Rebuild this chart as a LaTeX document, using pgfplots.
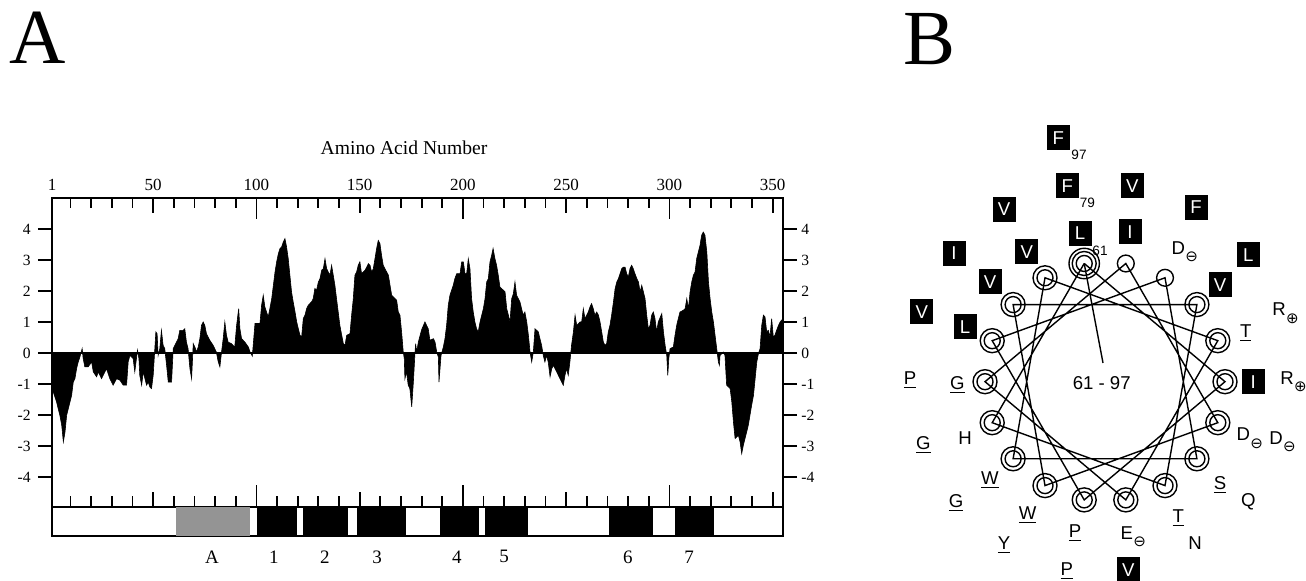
\documentclass[border=0pt]{standalone}
\usepackage{pgfplots}
\pgfplotsset{compat=1.18}
\usepackage{fontspec}
\setmainfont{Liberation Serif}
\newfontfamily\hv{Liberation Sans}
\newfontfamily\djsans{DejaVu Sans}
\newcommand{\ms}{\rlap{\kern0.2pt\raisebox{-3.8pt}{\djsans\fontsize{7.5}{8}\selectfont ⊖}}}
\newcommand{\ps}{\rlap{\kern0.2pt\raisebox{-3.8pt}{\djsans\fontsize{7.5}{8}\selectfont ⊕}}}
\begin{document}
\begin{tikzpicture}
\path[use as bounding box] (0,0) rectangle (653pt,290.5pt);

% ---------- Panel A: hydropathy profile ----------
\begin{axis}[
  at={(26pt,37pt)}, anchor=south west, scale only axis,
  width=365.5pt, height=154.5pt,
  xmin=1, xmax=355, ymin=-4.97, ymax=5.0,
  axis line style={line width=0.9pt},
  tick style={line width=0.9pt, black},
  tick align=inside,
  xtick pos=both, xticklabel pos=top,
  xtick={50,150,250,350}, xticklabels={50,150,250,350},
  extra x ticks={1,100,200,300}, extra x tick labels={1,100,200,300},
  extra x tick style={major tick length=10.75pt},
  minor xtick={10,20,...,350},
  major tick length=7.5pt, minor tick length=5.25pt,
  ytick=\empty,
  xticklabel style={font=\fontsize{8.5}{10}\selectfont, inner sep=1pt, yshift=2.5pt},
  clip=false
]
\addplot[fill=black, draw=black, line width=0.3pt] coordinates {
(1,0) (1,-1.15) (1.6,-1.26) (3.2,-1.58) (4.8,-2.01) (5.7,-2.33) (6.5,-2.87) (7.3,-2.55) (8.1,-2.01) (8.9,-1.80) (9.7,-1.58) (10.5,-1.37) (11.3,-0.94) (12.1,-0.83) (12.9,-0.51) (13.7,-0.29) (14.5,-0.13) (15.6,0.14) (16.1,-0.18) (16.9,-0.45) (18.5,-0.45) (20.2,-0.29) (21.0,-0.61) (22.6,-0.77) (23.4,-0.61) (25.0,-0.83) (25.8,-0.72) (27.4,-0.51) (29.0,-0.83) (30.6,-1.04) (32.3,-0.83) (33.9,-0.88) (35.5,-1.04) (37.1,-1.04) (37.9,-0.29) (38.7,-0.08) (40.3,-0.18) (41.1,-0.61) (42.4,0.09) (43.1,-0.18) (43.5,-0.72) (44.4,-1.04) (45.2,-0.61) (46.0,-0.83) (46.8,-1.04) (47.6,-0.94) (48.4,-1.10) (49.2,-1.15) (50.0,-0.72) (50.8,0.14) (51.3,0.68) (51.9,0.62) (52.4,-0.08) (53.2,0.14) (54.0,0.73) (54.8,0.25) (55.6,0.14) (56.5,-0.40) (57.3,-0.94) (58.9,-0.94) (59.7,0.14) (60.5,0.25) (62.1,0.46) (62.9,0.73) (64.5,0.73) (65.3,0.78) (66.1,0.35) (66.9,0.14) (67.8,-0.51) (68.6,-0.83) (69.4,0.30) (70.2,0.19) (71.0,0.03) (71.8,0.19) (72.6,0.46) (73.4,0.89) (74.2,1.00) (75.0,0.89) (75.8,0.62) (77.4,0.41) (79.0,0.25) (80.6,0.03) (81.5,-0.29) (82.3,-0.45) (83.1,0.03) (83.9,0.46) (84.7,1.00) (85.5,0.57) (86.3,0.35) (87.9,0.30) (89.5,0.19) (90.4,0.89) (91.4,1.43) (92.0,0.78) (92.8,0.46) (94.4,0.35) (96.1,0.19) (96.9,0.03) (98.0,-0.10) (98.5,0.30) (99.3,0.95) (101.7,0.95) (102.5,1.54) (103.3,1.86) (104.1,1.48) (104.9,1.32) (105.7,1.16) (106.5,1.43) (107.4,1.75) (108.2,2.18) (109.0,2.61) (109.8,2.94) (110.6,3.20) (111.4,3.37) (112.2,3.42) (113.0,3.58) (113.8,3.69) (114.6,3.42) (115.4,3.04) (116.2,2.51) (117.0,1.97) (117.8,1.65) (118.7,1.32) (119.5,1.00) (120.3,0.78) (121.1,0.57) (121.9,0.52) (122.7,1.11) (123.5,1.22) (124.3,1.43) (125.1,1.54) (126.7,1.65) (127.5,1.75) (128.3,2.08) (129.1,2.02) (130.0,2.29) (130.8,2.40) (131.6,2.67) (132.4,2.72) (133.2,3.04) (134.0,2.72) (134.8,2.61) (135.6,2.51) (136.4,2.83) (137.2,2.51) (138.0,2.18) (138.8,1.75) (139.6,1.32) (140.4,0.89) (141.3,0.57) (142.1,0.30) (142.9,0.25) (143.7,0.57) (145.3,0.62) (146.1,1.22) (146.9,1.75) (147.7,2.51) (148.5,2.61) (149.3,2.83) (150.1,2.94) (150.9,2.56) (152.6,2.67) (153.4,2.77) (154.2,2.88) (155.0,2.83) (155.8,2.61) (156.6,2.72) (157.4,3.04) (158.2,3.37) (159.0,3.63) (159.8,3.53) (160.6,3.15) (161.4,2.83) (162.2,2.72) (163.9,2.51) (164.7,2.18) (165.5,1.86) (167.9,1.70) (168.7,1.32) (169.5,1.22) (170.3,0.68) (171.1,0.03) (171.6,-0.18) (171.9,-0.83) (172.7,-0.61) (173.5,-1.04) (174.3,-1.15) (175.2,-1.74) (176.0,-0.94) (176.8,0.03) (177.1,0.30) (177.6,0.03) (178.4,0.35) (180.0,0.75) (181.6,1.00) (183.2,0.78) (184.0,0.41) (185.7,0.46) (186.5,0.35) (187.3,0.03) (188.1,-0.13) (188.4,-0.94) (188.9,-0.51) (189.4,-0.08) (190.5,0.19) (191.3,0.46) (192.1,0.89) (192.9,1.54) (193.7,1.86) (195.3,2.18) (196.1,2.40) (197.0,2.56) (198.6,2.56) (199.4,2.94) (200.2,2.94) (201.0,2.56) (201.8,2.56) (202.6,3.04) (203.4,2.72) (204.2,1.75) (205.0,1.32) (205.8,1.00) (206.6,0.78) (207.4,0.68) (208.3,1.00) (209.1,1.22) (209.9,1.43) (210.7,1.75) (211.5,2.29) (212.3,2.40) (213.1,2.94) (213.9,3.15) (214.6,3.37) (215.5,3.04) (216.3,2.83) (217.1,2.51) (217.9,2.13) (220.4,1.97) (221.2,1.43) (222.0,1.22) (222.8,1.00) (223.6,1.75) (224.4,1.91) (225.2,2.29) (226.0,1.86) (227.6,1.65) (228.4,1.43) (229.2,1.22) (230.0,1.32) (230.9,1.00) (231.7,0.57) (232.5,0.03) (233.3,-0.29) (234.1,0.03) (234.9,0.78) (236.5,0.68) (237.3,0.46) (238.1,0.25) (238.9,-0.08) (239.7,-0.29) (240.5,-0.08) (241.3,-0.29) (242.2,-0.77) (243.0,-0.51) (243.8,-0.40) (245.4,-0.61) (247.0,-0.83) (248.6,-1.04) (249.4,-0.72) (250.2,-0.51) (251.0,-0.72) (251.8,-0.29) (252.6,0.25) (253.5,0.68) (254.3,1.22) (255.1,0.89) (256.7,1.00) (257.5,1.00) (258.3,1.43) (259.1,1.11) (260.7,1.32) (261.5,1.48) (262.3,1.59) (263.1,1.43) (263.9,1.22) (264.8,1.32) (265.6,1.22) (266.4,1.00) (267.2,0.68) (268.0,0.35) (268.8,0.25) (269.6,0.30) (270.4,0.68) (271.2,0.89) (272.0,1.22) (272.9,1.65) (273.7,2.08) (274.5,2.29) (275.3,2.40) (276.1,2.56) (276.9,2.72) (277.7,2.77) (278.5,2.77) (279.3,2.56) (280.1,2.45) (280.9,2.72) (281.7,2.83) (282.5,2.72) (283.3,2.56) (284.2,2.40) (285.0,2.29) (285.8,1.97) (286.6,2.18) (287.4,1.97) (288.2,1.75) (289.0,1.22) (289.8,0.78) (290.6,0.89) (291.4,1.22) (292.2,1.32) (293.0,1.11) (293.8,0.68) (294.6,1.00) (296.3,1.27) (297.1,0.68) (297.9,0.25) (298.7,-0.08) (299.2,-0.72) (299.7,-0.18) (300.3,0.14) (301.9,0.19) (302.7,0.57) (303.5,0.89) (304.3,1.11) (305.1,1.32) (306.8,1.38) (307.6,1.43) (308.4,1.75) (309.2,1.43) (310.0,1.97) (310.8,2.29) (311.6,2.51) (312.4,2.61) (313.2,3.04) (314.0,3.26) (314.8,3.47) (315.6,3.80) (316.4,3.90) (317.2,3.80) (318.1,3.26) (318.9,2.29) (319.7,1.75) (320.5,1.32) (321.3,1.00) (322.1,0.57) (322.9,0.14) (323.7,-0.29) (324.2,-0.40) (324.5,-0.08) (326.1,0.03) (326.9,-0.08) (327.7,-1.04) (329.4,-1.15) (330.2,-1.58) (331.0,-2.23) (331.8,-2.76) (333.4,-2.66) (334.2,-2.87) (335.0,-3.25) (335.8,-2.98) (336.6,-2.76) (337.4,-2.55) (338.2,-2.33) (339.0,-2.01) (339.8,-1.69) (340.7,-1.37) (341.5,-0.83) (342.3,-0.29) (343.1,-0.02) (343.9,0.14) (344.7,0.89) (345.5,1.22) (346.3,1.16) (347.1,0.68) (347.9,0.73) (348.7,0.52) (349.5,1.11) (350.3,0.52) (351.1,0.57) (351.9,0.73) (352.8,0.89) (353.6,1.00) (355,1.11) (355,0)
} -- cycle;
\addplot[black, line width=0.6pt] coordinates {(1,0) (355,0)};
\end{axis}

% left y ticks
\begin{axis}[
  at={(26pt,37pt)}, anchor=south west, scale only axis,
  width=365.5pt, height=154.5pt,
  xmin=1, xmax=355, ymin=-4.97, ymax=5.0,
  axis line style={line width=0.9pt},
  tick style={line width=0.9pt, black},
  tick align=outside, major tick length=7pt,
  xtick=\empty,
  ytick={-4,-3,-2,-1,0,1,2,3,4},
  yticklabels={-4,-3,-2,-1,0,1,2,3,4},
  ytick pos=left, yticklabel pos=left,
  yticklabel style={font=\fontsize{7.8}{9}\selectfont, inner sep=1pt, xshift=-2.5pt}
]
\end{axis}
% right y ticks
\begin{axis}[
  at={(26pt,37pt)}, anchor=south west, scale only axis,
  width=365.5pt, height=154.5pt,
  xmin=1, xmax=355, ymin=-4.97, ymax=5.0,
  axis line style={line width=0.9pt},
  tick style={line width=0.9pt, black},
  tick align=outside, major tick length=7pt,
  xtick=\empty,
  ytick={-4,-3,-2,-1,0,1,2,3,4},
  yticklabels={-4,-3,-2,-1,0,1,2,3,4},
  ytick pos=right, yticklabel pos=right,
  yticklabel style={font=\fontsize{7.8}{9}\selectfont, inner sep=1pt, xshift=1pt}
]
\end{axis}

% strip with segments
\begin{axis}[
  at={(26pt,22.5pt)}, anchor=south west, scale only axis,
  width=365.5pt, height=14.5pt,
  xmin=1, xmax=355, ymin=0, ymax=1,
  xtick=\empty, ytick=\empty,
  axis line style={line width=0.9pt},
  clip=false
]
\addplot[fill=black!42, draw=none] coordinates {(61,0) (61,1) (97.1,1) (97.1,0)} -- cycle;
\addplot[fill=black, draw=none] coordinates {(100.3,0) (100.3,1) (119.6,1) (119.6,0)} -- cycle;
\addplot[fill=black, draw=none] coordinates {(122.5,0) (122.5,1) (144.3,1) (144.3,0)} -- cycle;
\addplot[fill=black, draw=none] coordinates {(148.7,0) (148.7,1) (172.4,1) (172.4,0)} -- cycle;
\addplot[fill=black, draw=none] coordinates {(188.9,0) (188.9,1) (207.8,1) (207.8,0)} -- cycle;
\addplot[fill=black, draw=none] coordinates {(210.7,0) (210.7,1) (231.5,1) (231.5,0)} -- cycle;
\addplot[fill=black, draw=none] coordinates {(270.7,0) (270.7,1) (292.0,1) (292.0,0)} -- cycle;
\addplot[fill=black, draw=none] coordinates {(302.7,0) (302.7,1) (321.6,1) (321.6,0)} -- cycle;
\begin{scope}[every node/.style={font=\fontsize{9.5}{11}\selectfont}]
\node at (axis cs:78.5,-0.72) {A};
\node at (axis cs:108.5,-0.72) {1};
\node at (axis cs:133.2,-0.72) {2};
\node at (axis cs:158.4,-0.72) {3};
\node at (axis cs:197.1,-0.72) {4};
\node at (axis cs:219.9,-0.72) {5};
\node at (axis cs:279.9,-0.72) {6};
\node at (axis cs:309.5,-0.72) {7};
\end{scope}
\end{axis}

% ---------- canvas: titles and panel B ----------
\begin{axis}[
  at={(0pt,0pt)}, anchor=south west, scale only axis,
  width=653pt, height=290.5pt,
  xmin=0, xmax=1306, ymin=-581, ymax=0,
  hide axis, clip=false
]
\node[font=\fontsize{39}{40}\selectfont] at (axis cs:37.5,-38) {A};
\node[font=\fontsize{39}{40}\selectfont] at (axis cs:929.5,-39) {B};
\node[font=\fontsize{9.8}{11}\selectfont] at (axis cs:404,-147.5) {Amino Acid Number};

% wheel connections
\addplot[black, line width=0.7pt] coordinates {
(1084.2,-263.5) (1225,-381.7) (1084.2,-499.9) (992.2,-340.7) (1165,-277.8) (1196.9,-458.8) (1013.1,-458.8) (1045,-277.8) (1217.8,-340.7) (1125.8,-499.9) (985,-381.7) (1125.8,-263.5) (1217.8,-422.7) (1045,-485.6) (1013.1,-304.6) (1196.9,-304.6) (1165,-485.6) (992.2,-422.7) (1084.2,-263.5)};
\addplot[black, line width=0.7pt] coordinates {(1084.2,-263.5) (1103,-363)};
% circles
\addplot[only marks, mark=o, mark size=4.2pt, mark options={line width=0.7pt, black}] coordinates {(1125.8,-263.5) (1165,-277.8)};
\addplot[only marks, mark=o, mark size=6pt, mark options={line width=0.7pt, black}] coordinates {
(1084.2,-263.5) (1196.9,-304.6) (1217.8,-340.7) (1225,-381.7) (1217.8,-422.7) (1196.9,-458.8) (1165,-485.6) (1125.8,-499.9) (1084.2,-499.9) (1045,-485.6) (1013.1,-458.8) (992.2,-422.7) (985,-381.7) (992.2,-340.7) (1013.1,-304.6) (1045,-277.8)};
\addplot[only marks, mark=o, mark size=4pt, mark options={line width=0.7pt, black}] coordinates {
(1084.2,-263.5) (1196.9,-304.6) (1217.8,-340.7) (1225,-381.7) (1217.8,-422.7) (1196.9,-458.8) (1165,-485.6) (1125.8,-499.9) (1084.2,-499.9) (1045,-485.6) (1013.1,-458.8) (992.2,-422.7) (985,-381.7) (992.2,-340.7) (1013.1,-304.6) (1045,-277.8)};
\addplot[only marks, mark=o, mark size=7.6pt, mark options={line width=0.7pt, black}] coordinates {(1084.2,-263.5)};

\begin{scope}[every node/.style={font=\hv\fontsize{9.3}{10}\selectfont, inner sep=0pt},
  bx/.style={fill=black, text=white, minimum width=11.5pt, minimum height=12.5pt}]
% black boxes
\node[bx] at (axis cs:1058.3,-137.7) {F};
\node[bx] at (axis cs:1067.3,-186) {F};
\node[bx] at (axis cs:1080,-233.3) {L};
\node[bx] at (axis cs:1132.3,-186) {V};
\node[bx] at (axis cs:1130,-231.7) {I};
\node[bx] at (axis cs:1196,-207.3) {F};
\node[bx] at (axis cs:1248.3,-255) {L};
\node[bx] at (axis cs:1220,-285) {V};
\node[bx] at (axis cs:1253.3,-381.7) {I};
\node[bx] at (axis cs:1128.3,-570) {V};
\node[bx] at (axis cs:965,-326.7) {L};
\node[bx] at (axis cs:921.7,-311.7) {V};
\node[bx] at (axis cs:990,-281.7) {V};
\node[bx] at (axis cs:954,-253.3) {I};
\node[bx] at (axis cs:1026.7,-251.7) {V};
\node[bx] at (axis cs:1004,-209.3) {V};
% small numbers
\node[font=\hv\fontsize{6.8}{7}\selectfont] at (axis cs:1079,-155) {97};
\node[font=\hv\fontsize{6.8}{7}\selectfont] at (axis cs:1087.3,-203.3) {79};
\node[font=\hv\fontsize{6.8}{7}\selectfont] at (axis cs:1100,-250.7) {61};
% plain letters
\node at (axis cs:1178.3,-251.7) {D\ms};
\node at (axis cs:1279,-313.3) {R\ps};
\node at (axis cs:1245.7,-333) {\underline{T}};
\node at (axis cs:1287,-381.7) {R\ps};
\node at (axis cs:1243.3,-438.3) {D\ms};
\node at (axis cs:1276,-441.7) {D\ms};
\node at (axis cs:1220,-485) {\underline{S}};
\node at (axis cs:1248.3,-501.7) {Q};
\node at (axis cs:1178.3,-518) {\underline{T}};
\node at (axis cs:1195,-543.3) {N};
\node at (axis cs:1126.7,-536.7) {E\ms};
\node at (axis cs:1075,-533) {\underline{P}};
\node at (axis cs:1066.7,-571) {\underline{P}};
\node at (axis cs:1027.7,-515) {\underline{W}};
\node at (axis cs:1004,-545) {\underline{Y}};
\node at (axis cs:990,-480) {\underline{W}};
\node at (axis cs:956,-503) {\underline{G}};
\node at (axis cs:965,-438.3) {H};
\node at (axis cs:923.3,-445) {\underline{G}};
\node at (axis cs:957.3,-385) {\underline{G}};
\node at (axis cs:910,-380) {\underline{P}};
\node at (axis cs:1101.7,-382.7) {61 - 97};
\end{scope}
\end{axis}
\end{tikzpicture}
\end{document}
